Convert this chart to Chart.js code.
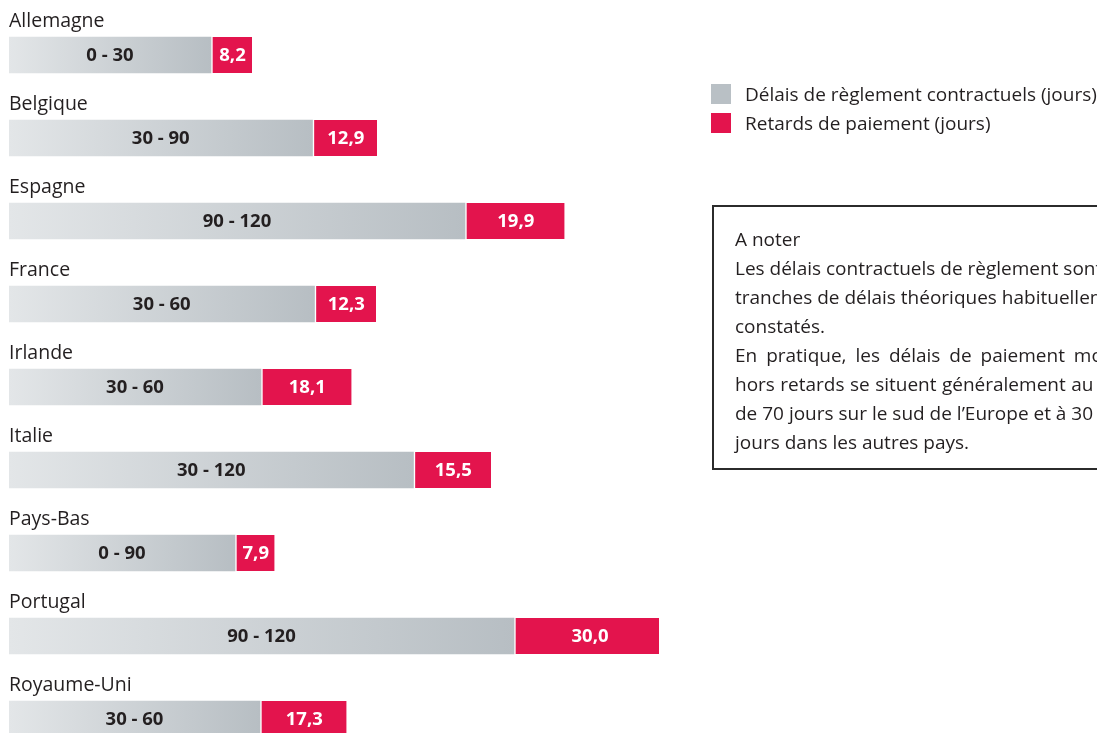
<!DOCTYPE html>
<html lang="fr">
<head>
<meta charset="utf-8">
<title>Délais et retards de paiement</title>
<script src="https://cdn.jsdelivr.net/npm/chart.js@4.4.1/dist/chart.umd.min.js"></script>
<style>
  html, body { margin: 0; padding: 0; background: #fff; overflow: hidden; }
  body { width: 1097px; height: 733px; position: relative; font-family: "Open Sans", sans-serif; color: #231f20; }
  .chart-wrap { position: absolute; left: 0; top: 0; width: 1097px; height: 762px; }
  #legend { position: absolute; left: 711px; top: 84px; }
  .legend-item { display: flex; align-items: center; height: 20px; margin-bottom: 9px; font-size: 19px; white-space: nowrap; }
  .legend-item span.box { width: 20px; height: 20px; margin-right: 14px; flex: none; }
  .note { position: absolute; left: 712px; top: 205px; width: 430px; height: 261px; border: 2px solid #2b2b2b; font-size: 19px; }
  .note div { position: absolute; left: 21px; white-space: nowrap; line-height: 20px; }
</style>
</head>
<body>
<div class="chart-wrap"><canvas id="delaisChart"></canvas></div>
<div id="legend"></div>
<div class="note">
  <div style="top:22px">A noter</div>
  <div style="top:51px">Les délais contractuels de règlement sont des</div>
  <div style="top:80px">tranches de délais théoriques habituellement</div>
  <div style="top:109px">constatés.</div>
  <div style="top:138px; word-spacing:4px">En pratique, les délais de paiement moyens</div>
  <div style="top:167px; word-spacing:0.5px">hors retards se situent généralement au delà</div>
  <div style="top:196px">de 70 jours sur le sud de l’Europe et à 30</div>
  <div style="top:225px">jours dans les autres pays.</div>
</div>
<script>
const countries = ["Allemagne", "Belgique", "Espagne", "France", "Irlande", "Italie", "Pays-Bas", "Portugal", "Royaume-Uni"];
const rangeLabels = ["0 - 30", "30 - 90", "90 - 120", "30 - 60", "30 - 60", "30 - 120", "0 - 90", "90 - 120", "30 - 60"];
const contractualDays = [40.4, 60.7, 91.2, 61.1, 50.4, 80.9, 45.2, 101.0, 50.2];
const lateDays = [8.2, 12.9, 19.9, 12.3, 18.1, 15.5, 7.9, 30.0, 17.3];
const seriesNames = ["Délais de règlement contractuels (jours)", "Retards de paiement (jours)"];

const RED = "#e3144d";
const GREY = "#b9c0c5";

// grey bars get their own light-to-dark gradient
const greyGradient = (ctx) => {
  const chart = ctx.chart;
  if (!chart.chartArea || ctx.type !== "data") return GREY;
  const x = chart.scales.x;
  const x0 = x.getPixelForValue(0);
  const x1 = x.getPixelForValue(ctx.raw);
  const g = chart.ctx.createLinearGradient(x0, 0, x1, 0);
  g.addColorStop(0, "#e3e6e8");
  g.addColorStop(1, "#b7bec3");
  return g;
};

const barTexts = {
  id: "barTexts",
  afterDatasetsDraw(chart) {
    const { ctx } = chart;
    const yScale = chart.scales.y;
    const greyMeta = chart.getDatasetMeta(0);
    const redMeta = chart.getDatasetMeta(1);
    ctx.save();
    countries.forEach((name, i) => {
      const y = yScale.getPixelForValue(i);
      // country name above the bar
      ctx.font = '19.5px "Open Sans"';
      ctx.fillStyle = "#231f20";
      ctx.textAlign = "left";
      ctx.textBaseline = "alphabetic";
      ctx.fillText(name, chart.chartArea.left, y - 28);

      ctx.font = 'bold 18.5px "Open Sans"';
      ctx.textAlign = "center";
      ctx.textBaseline = "middle";
      const g = greyMeta.data[i];
      ctx.fillStyle = "#231f20";
      ctx.fillText(rangeLabels[i], (g.x + g.base) / 2, y + 1);

      const r = redMeta.data[i];
      ctx.fillStyle = "#fff";
      ctx.fillText(lateDays[i].toFixed(1).replace(".", ","), (r.x + r.base + 2) / 2, y + 1);
    });
    ctx.restore();
  },
};

const chart = new Chart(document.getElementById("delaisChart"), {
  type: "bar",
  data: {
    labels: countries,
    datasets: [
      {
        label: seriesNames[0],
        data: contractualDays,
        backgroundColor: greyGradient,
        borderWidth: 0,
        barThickness: 36,
      },
      {
        label: seriesNames[1],
        data: lateDays,
        backgroundColor: RED,
        borderColor: "#ffffff",
        borderWidth: { left: 2, top: 0, right: 0, bottom: 0 },
        borderSkipped: false,
        barThickness: 36,
      },
    ],
  },
  options: {
    indexAxis: "y",
    responsive: true,
    maintainAspectRatio: false,
    animation: false,
    layout: { padding: { left: 9, top: 13.5, bottom: 1.5, right: 438 } },
    plugins: {
      legend: { display: false },
      tooltip: { enabled: false },
    },
    scales: {
      x: { stacked: true, min: 0, max: 130, display: false },
      y: { stacked: true, display: false },
    },
  },
  plugins: [barTexts],
});

// html legend built from the datasets
const legendColors = [GREY, RED];
document.getElementById("legend").innerHTML = chart.data.datasets
  .map((ds, i) => `<div class="legend-item"><span class="box" style="background:${legendColors[i]}"></span>${ds.label}</div>`)
  .join("");
</script>
</body>
</html>
